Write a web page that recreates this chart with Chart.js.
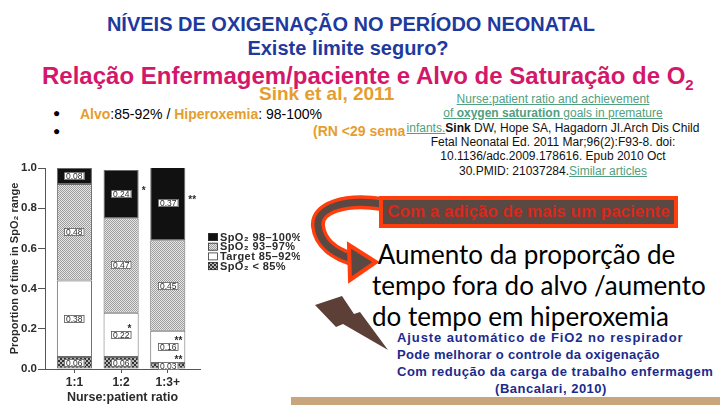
<!DOCTYPE html>
<html lang="pt">
<head>
<meta charset="utf-8">
<title>Relação Enfermagem/paciente e Alvo de Saturação</title>
<script src="https://cdn.jsdelivr.net/npm/chart.js@4.4.1/dist/chart.umd.min.js"></script>
<style>
  html, body { margin: 0; padding: 0; }
  body { width: 720px; height: 405px; position: relative; overflow: hidden; background: #fff;
         font-family: "Liberation Sans", Arial, sans-serif; }
  .t { position: absolute; white-space: nowrap; }
  .blue { color: #1f3a9e; font-weight: bold; font-size: 20px; line-height: 22px; }
  .orange { color: #e59d2e; font-weight: bold; }
  .green { color: #4f9f80; text-decoration: underline; }
  .cite { font-size: 12px; line-height: 14px; color: #111; left: 403px; width: 300px; text-align: center; }
  .big { font-family: Lato, "Open Sans", sans-serif; font-size: 26px; line-height: 31px; color: #000; }
  .note { color: #1b2b8c; font-weight: bold; font-size: 13px; line-height: 17px; letter-spacing: 0.5px; }
  #chartBox { position: absolute; left: 0; top: 150px; width: 300px; height: 255px; }
</style>
</head>
<body>

<svg width="720" height="405" style="position:absolute;left:0;top:0">
  <path d="M382,204 C345,198 316,208 318,226 C320,244 336,254 352,259" stroke="#ff3d0d" stroke-width="14" fill="none"/>
  <path d="M382,204 C345,198 316,208 318,226 C320,244 336,254 352,259" stroke="#5a4843" stroke-width="7" fill="none"/>
  <polygon points="349,245 376,262 350,280" fill="#5a4843" stroke="#ff3d0d" stroke-width="4"/>
  <polygon points="315,305 342,296 354,314 360,312 388,350 343,324 336,327" fill="#5c4038"/>
</svg>

<div class="t blue" style="left:0;width:702px;text-align:center;top:13px">NÍVEIS DE OXIGENAÇÃO NO PERÍODO NEONATAL</div>
<div class="t blue" style="left:0;width:696px;text-align:center;top:37px">Existe limite seguro?</div>
<div class="t" style="left:42px;top:62px;font-size:24px;line-height:28px;font-weight:bold;color:#d3176a">Relação Enfermagem/paciente e Alvo de Saturação de O<sub style="font-size:15px">2</sub></div>
<div class="t orange" style="left:259px;top:83px;font-size:19px;line-height:22px">Sink et al, 2011</div>

<div class="t" style="left:53px;top:105px;font-size:12px;line-height:16px">●</div>
<div class="t" style="left:53px;top:123px;font-size:12px;line-height:16px">●</div>
<div class="t" style="left:80px;top:106px;font-size:14px;line-height:16px"><span class="orange">Alvo</span>:85-92% / <span class="orange">Hiperoxemia</span>: 98-100%</div>
<div class="t orange" style="left:313px;top:123px;font-size:14px;line-height:16px">(RN &lt;29 sema</div>

<div class="t cite" style="top:92px"><span class="green">Nurse:patient ratio and achievement</span></div>
<div class="t cite" style="top:106px"><span class="green">of <b>oxygen saturation</b> goals in premature</span></div>
<div class="t cite" style="top:121px"><span class="green">infants.</span><b>Sink</b> DW, Hope SA, Hagadorn JI.Arch Dis Child</div>
<div class="t cite" style="top:135px">Fetal Neonatal Ed. 2011 Mar;96(2):F93-8. doi:</div>
<div class="t cite" style="top:149px">10.1136/adc.2009.178616. Epub 2010 Oct</div>
<div class="t cite" style="top:164px">30.PMID: 21037284.<span class="green">Similar articles</span></div>

<div style="position:absolute;left:379px;top:196px;width:299px;height:32px;background:#ff3d0d"></div>
<div class="t" style="left:383px;top:200px;width:291px;height:24px;background:#5a4843;color:#d8281c;font-weight:bold;font-size:17px;line-height:24px;text-align:center">Com a adição de mais um paciente</div>

<div class="t big" style="left:372px;top:239px">&nbsp;Aumento da proporção de<br>tempo fora do alvo /aumento<br>do tempo em hiperoxemia</div>

<div class="t note" style="left:397px;top:329px"><span style="letter-spacing:0.9px">Ajuste automático de FiO2 no respirador</span><br><span style="letter-spacing:0.3px">Pode melhorar o controle da oxigenação</span><br>Com redução da carga de trabalho enfermagem</div>
<div class="t note" style="left:451px;width:200px;text-align:center;top:380px">(Bancalari, 2010)</div>

<div style="position:absolute;left:291px;top:397px;width:429px;height:8px;background:#c9a57b"></div>

<div id="chartBox"><canvas id="chart" width="300" height="255"></canvas></div>

<script>
// ── Data ───────────────────────────────────────────────
const categories = ['1:1', '1:2', '1:3+'];
const seriesNames = ['SpO₂ < 85%', 'Target 85–92%', 'SpO₂ 93–97%', 'SpO₂ 98–100%'];
const below85 = [0.06, 0.06, 0.03];
const target = [0.38, 0.22, 0.16];
const spo2Mid = [0.48, 0.47, 0.45];
const spo2High = [0.08, 0.24, 0.37];
// significance marks printed beside the boxes
const sigBelow85 = ['', '', '**'];
const sigTarget = ['', '*', '**'];
const sigMid = ['', '', ''];
const sigHigh = ['', '*', '**'];
const yTicks = [0, 0.2, 0.4, 0.6, 0.8, 1.0];

const FONT = '"Liberation Sans", Arial, sans-serif';
const INK = '#2b2b2b';

// ── Fill patterns ──────────────────────────────────────
function makePattern(size, bg, fg, cells) {
  const c = document.createElement('canvas');
  c.width = size; c.height = size;
  const g = c.getContext('2d');
  g.fillStyle = bg; g.fillRect(0, 0, size, size);
  g.fillStyle = fg;
  cells.forEach(([x, y, w, h]) => g.fillRect(x, y, w, h));
  return g.createPattern(c, 'repeat');
}

const fineHatch = makePattern(2, '#e6e6e6', '#9d9d9d', [[0, 0, 1, 1], [1, 1, 1, 1]]);
const darkCheck = makePattern(4, '#b4b4b4', '#333333', [[0, 0, 2, 2], [2, 2, 2, 2]]);

const fills = [darkCheck, '#ffffff', fineHatch, '#111111'];
const seriesValues = [below85, target, spo2Mid, spo2High];
const seriesSig = [sigBelow85, sigTarget, sigMid, sigHigh];

// ── Plugins ────────────────────────────────────────────
const segmentLabels = {
  id: 'segmentLabels',
  afterDatasetsDraw(chart) {
    const ctx = chart.ctx;
    ctx.save();
    chart.data.datasets.forEach((ds, di) => {
      chart.getDatasetMeta(di).data.forEach((bar, i) => {
        const txt = ds.data[i].toFixed(2);
        const cy = (bar.y + bar.base) / 2;
        ctx.font = '8.5px ' + FONT;
        const w = ctx.measureText(txt).width + 4;
        const h = 8;
        const bx = Math.round(bar.x - w / 2), by = Math.round(cy - h / 2);
        ctx.fillStyle = '#fff';
        ctx.fillRect(bx, by, w, h);
        ctx.strokeStyle = '#555';
        ctx.lineWidth = 0.8;
        ctx.strokeRect(bx + 0.5, by + 0.5, w - 1, h - 1);
        ctx.fillStyle = INK;
        ctx.textAlign = 'center';
        ctx.textBaseline = 'middle';
        ctx.fillText(txt, bx + w / 2, by + h / 2 + 0.5);

        const sig = ds.sig[i];
        if (!sig) return;
        ctx.font = 'bold 10px ' + FONT;
        ctx.textAlign = 'left';
        if (di === 3) ctx.fillText(sig, bar.x + bar.width / 2 + 3, cy - 3);
        else ctx.fillText(sig, bx + w - 4, by - 2);
      });
    });
    ctx.restore();
  }
};

const sideLegend = {
  id: 'sideLegend',
  afterDraw(chart) {
    const ctx = chart.ctx;
    const x = chart.chartArea.right + 8;
    let y = 87;
    ctx.save();
    ctx.font = 'bold 11px ' + FONT;
    ctx.letterSpacing = '0.4px';
    ctx.textBaseline = 'middle';
    ctx.textAlign = 'left';
    for (let di = chart.data.datasets.length - 1; di >= 0; di--) {
      const ds = chart.data.datasets[di];
      ctx.fillStyle = ds.backgroundColor;
      ctx.fillRect(x, y - 4, 10, 8);
      ctx.strokeStyle = '#333';
      ctx.lineWidth = 0.8;
      ctx.strokeRect(x + 0.5, y - 3.5, 9, 7);
      ctx.fillStyle = INK;
      ctx.fillText(ds.label, x + 12, y + 0.5);
      y += 9.7;
    }
    ctx.restore();
  }
};

// ── Chart ──────────────────────────────────────────────
Chart.defaults.font.family = FONT;
Chart.defaults.color = INK;

new Chart(document.getElementById('chart'), {
  type: 'bar',
  data: {
    labels: categories.map((_, i) => i),
    datasets: seriesNames.map((name, k) => ({
      label: name,
      data: seriesValues[k],
      sig: seriesSig[k],
      backgroundColor: fills[k],
      borderColor: '#6a6a6a',
      borderWidth: 1,
      borderSkipped: false,
      barPercentage: 0.94,
      categoryPercentage: 0.8,
    })),
  },
  options: {
    responsive: false,
    animation: false,
    layout: { padding: { left: 0, top: 18, right: 100, bottom: 0 } },
    plugins: { legend: { display: false }, tooltip: { enabled: false } },
    scales: {
      x: {
        type: 'linear',
        stacked: true,
        offset: false,
        min: -0.63,
        max: 2.69,
        afterBuildTicks: s => { s.ticks = categories.map((_, i) => ({ value: i })); },
        afterFit: s => { s.height = 36; },
        ticks: { callback: v => categories[v], font: { size: 12, weight: 'bold' }, color: INK, padding: 2, maxRotation: 0, autoSkip: false },
        grid: { offset: false, drawOnChartArea: false, tickLength: 4, color: '#555' },
        border: { color: '#555' },
        title: { display: true, text: 'Nurse:patient ratio', font: { size: 12.5, weight: 'bold' }, color: INK, padding: { top: 0, bottom: 0 } },
      },
      y: {
        stacked: true,
        min: 0,
        max: 1,
        afterBuildTicks: s => { s.ticks = yTicks.map(v => ({ value: v })); },
        afterFit: s => { s.width = 45; },
        ticks: { callback: v => v.toFixed(1), font: { size: 11.5, weight: 'bold' }, color: INK, padding: 1 },
        grid: { drawOnChartArea: false, tickLength: 7, color: '#555' },
        border: { color: '#555' },
        title: { display: true, text: 'Proportion of time in SpO₂ range', font: { size: 11, weight: 'bold' }, color: INK, padding: { top: 8, bottom: 0 } },
      },
    },
  },
  plugins: [segmentLabels, sideLegend],
});
</script>
</body>
</html>
